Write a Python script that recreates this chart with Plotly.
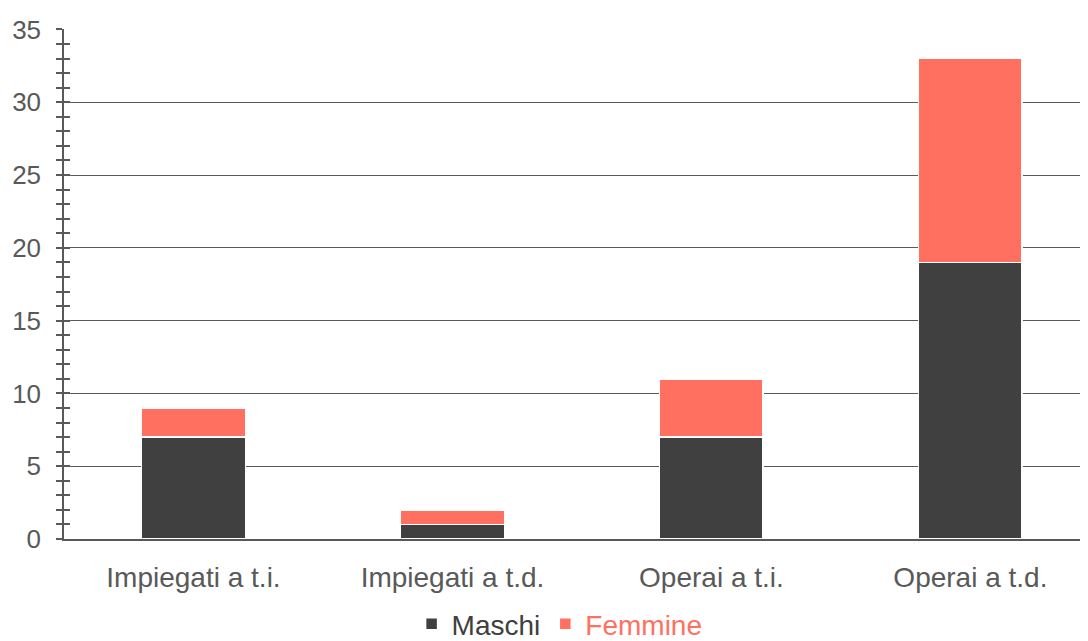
import plotly.graph_objects as go

categories = ["Impiegati a t.i.", "Impiegati a t.d.", "Operai a t.i.", "Operai a t.d."]
maschi = [7, 1, 7, 19]
femmine = [2, 1, 4, 14]
y_ticks = [0, 5, 10, 15, 20, 25, 30, 35]

c_m = "#404040"
c_f = "#FF7060"
axis_c = "#595959"

fig = go.Figure()
fig.add_trace(go.Bar(x=categories, y=maschi, name="Maschi",
                     marker=dict(color=c_m, line=dict(color="white", width=1.5))))
fig.add_trace(go.Bar(x=categories, y=femmine,
                     name="<span style='color:%s'>Femmine</span>" % c_f,
                     marker=dict(color=c_f, line=dict(color="white", width=1.5))))
fig.add_trace(go.Scatter(x=[], y=[], yaxis="y2", showlegend=False, hoverinfo="skip"))

font_family = "Liberation Sans, Arial, sans-serif"
fig.update_layout(
    width=1080, height=633,
    margin=dict(l=56, r=0, t=21, b=102, autoexpand=False),
    paper_bgcolor="white", plot_bgcolor="white",
    barmode="stack", bargap=0.6,
    font=dict(family=font_family, color=axis_c),
    xaxis=dict(range=[-0.5, 3.454], showline=True, linecolor=axis_c, linewidth=1.5, ticks="",
               tickfont=dict(size=28, color=axis_c), ticklabelstandoff=13,
               showgrid=False, zeroline=False, automargin=False),
    yaxis=dict(range=[0, 35.03], tickvals=y_ticks, showline=True, linecolor=axis_c, linewidth=1.5,
               ticks="outside", ticklen=6, tickcolor=axis_c, tickwidth=1.5,
               minor=dict(dtick=1, ticks="outside", ticklen=6, tickcolor=axis_c, tickwidth=1.5, showgrid=False),
               showgrid=True, gridcolor=axis_c, gridwidth=1, zeroline=False, automargin=False,
               tickfont=dict(size=26, color=axis_c), ticklabelstandoff=10),
    yaxis2=dict(range=[0, 35.03], tickvals=y_ticks, overlaying="y", side="left", anchor="x",
                ticks="inside", ticklen=6, tickcolor=axis_c, tickwidth=1.5,
                minor=dict(dtick=1, ticks="inside", ticklen=6, tickcolor=axis_c, tickwidth=1.5, showgrid=False),
                showticklabels=False, showgrid=False, showline=False, zeroline=False),
    legend=dict(orientation="h", x=0.484, xanchor="center", y=-0.1667, yanchor="middle",
                traceorder="normal",
                font=dict(size=28, color=c_m, family=font_family), itemwidth=30),
    showlegend=True,
)

fig.write_html("out.html")
